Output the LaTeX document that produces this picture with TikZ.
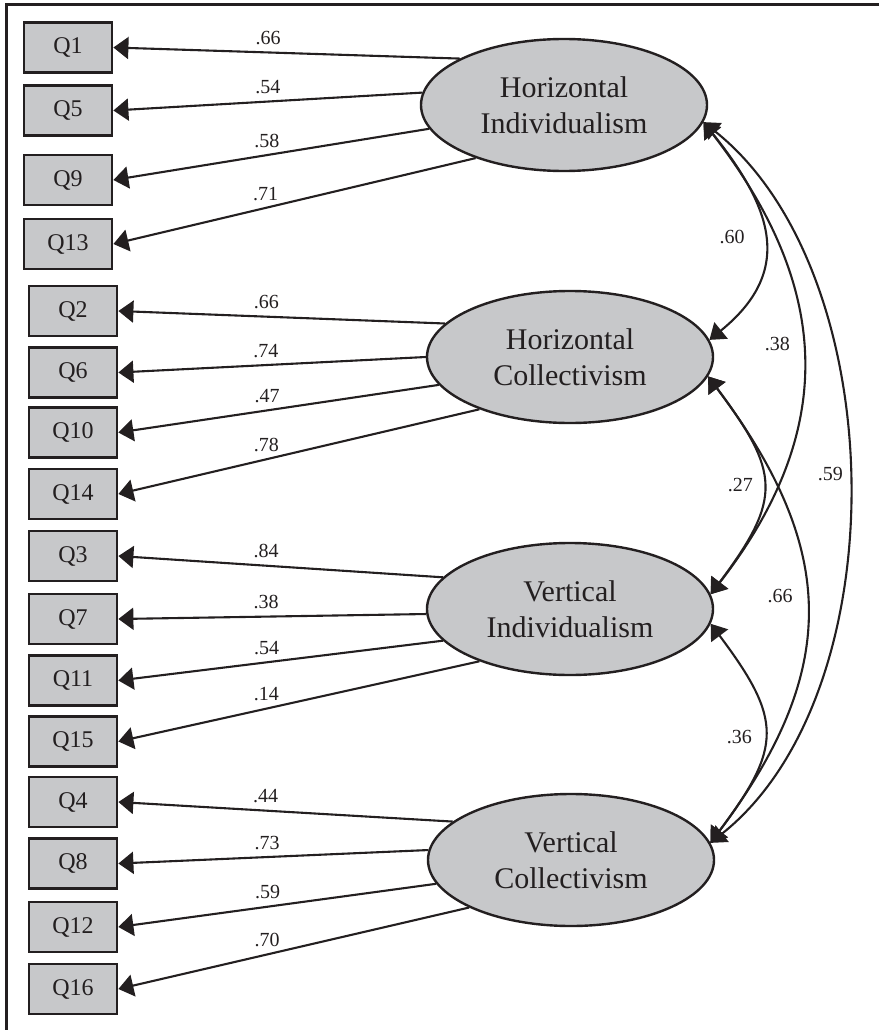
\documentclass[tikz,border=0pt]{standalone}
\usepackage{fontspec}
\setmainfont{Liberation Serif}
\usetikzlibrary{arrows.meta,shapes.geometric}
\definecolor{fillgray}{RGB}{199,200,202}
\definecolor{ink}{RGB}{35,31,32}
\begin{document}
\begin{tikzpicture}[x=1pt,y=-1pt,
  qbox/.style={draw=ink, line width=2.8pt, fill=fillgray, minimum width=88pt, minimum height=50pt, inner sep=0pt, font=\fontsize{24}{28}\selectfont, text=ink},
  latent/.style={ellipse, draw=ink, line width=2.4pt, fill=fillgray, minimum width=286pt, minimum height=132pt, inner sep=0pt, align=center, font=\fontsize{30}{36}\selectfont, text=ink},
  load/.style={draw=ink, line width=2.1pt, -{Triangle[length=15pt,width=22pt]}},
  cov/.style={draw=ink, line width=2.1pt, {Triangle[length=15pt,width=21pt]}-{Triangle[length=15pt,width=21pt]}},
  lab/.style={font=\fontsize{20}{24}\selectfont, text=ink, inner sep=1.5pt, above=5pt},
  clab/.style={font=\fontsize{20}{24}\selectfont, text=ink, inner sep=1.5pt}
]
\useasboundingbox (0,0) rectangle (879,1030);
% frame
\draw[ink, line width=3pt] (879,4.5) -- (6,4.5) -- (6,1030);

% observed variables
\node[qbox] (Q1)  at (68,47.5)  {Q1};
\node[qbox] (Q5)  at (68,110.5) {Q5};
\node[qbox] (Q9)  at (68,180)   {Q9};
\node[qbox] (Q13) at (68,244)   {Q13};
\node[qbox] (Q2)  at (73,311)   {Q2};
\node[qbox] (Q6)  at (73,372.5) {Q6};
\node[qbox] (Q10) at (73,432.5) {Q10};
\node[qbox] (Q14) at (73,494)   {Q14};
\node[qbox] (Q3)  at (73,556)   {Q3};
\node[qbox] (Q7)  at (73,619)   {Q7};
\node[qbox] (Q11) at (73,680.5) {Q11};
\node[qbox] (Q15) at (73,741.5) {Q15};
\node[qbox] (Q4)  at (73,802)   {Q4};
\node[qbox] (Q8)  at (73,863.5) {Q8};
\node[qbox] (Q12) at (73,927)   {Q12};
\node[qbox] (Q16) at (73,989)   {Q16};

% latent variables
\node[latent] (HI) at (564,105) {Horizontal\\Individualism};
\node[latent] (HC) at (570,357) {Horizontal\\Collectivism};
\node[latent] (VI) at (570,609) {Vertical\\Individualism};
\node[latent] (VC) at (571,860) {Vertical\\Collectivism};

% loadings
\draw[load] (HI.156) -- node[lab, pos=0.553] {.66} (Q1.east);
\draw[load] (HI.175) -- node[lab, pos=0.50]  {.54} (Q5.east);
\draw[load] (HI.190) -- node[lab, pos=0.514] {.58} (Q9.east);
\draw[load] (HI.211) -- node[lab, pos=0.58]  {.71} (Q13.east);

\draw[load] (HC.165) -- node[lab, pos=0.547] {.66} (Q2.east);
\draw[load] (HC.180) -- node[lab, pos=0.52]  {.74} (Q6.east);
\draw[load] (HC.192) -- node[lab, pos=0.536] {.47} (Q10.east);
\draw[load] (HC.210) -- node[lab, pos=0.59]  {.78} (Q14.east);

\draw[load] (VI.166) -- node[lab, pos=0.545] {.84} (Q3.east);
\draw[load] (VI.182) -- node[lab, pos=0.52]  {.38} (Q7.east);
\draw[load] (VI.194) -- node[lab, pos=0.543] {.54} (Q11.east);
\draw[load] (VI.210) -- node[lab, pos=0.59]  {.14} (Q15.east);

\draw[load] (VC.162) -- node[lab, pos=0.56]  {.44} (Q4.east);
\draw[load] (VC.176) -- node[lab, pos=0.52]  {.73} (Q8.east);
\draw[load] (VC.190) -- node[lab, pos=0.53]  {.59} (Q12.east);
\draw[load] (VC.205) -- node[lab, pos=0.576] {.70} (Q16.east);

% covariances
\draw[cov] (HI.-7) .. controls +(69,86) and +(85,-69) .. node[clab, pos=0.5, left=17pt] {.60} (HC.7);
\draw[cov] (HI.-7) .. controls +(128,165) and +(128,-165) .. node[clab, pos=0.47, left=10pt] {.38} (VI.6);
\draw[cov] (HI.-7) .. controls +(189,150) and +(189,-150) .. node[clab, pos=0.49, left=3pt] {.59} (VC.7);
\draw[cov] (HC.-8) .. controls +(72,96) and +(72,-96) .. node[clab, pos=0.5, left=8pt] {.27} (VI.6);
\draw[cov] (HC.-8) .. controls +(130,173) and +(130,-173) .. node[clab, pos=0.47, left=11pt] {.66} (VC.7);
\draw[cov] (VI.-6) .. controls +(72,96) and +(72,-96) .. node[clab, pos=0.52, left=10pt] {.36} (VC.7);
\end{tikzpicture}
\end{document}
